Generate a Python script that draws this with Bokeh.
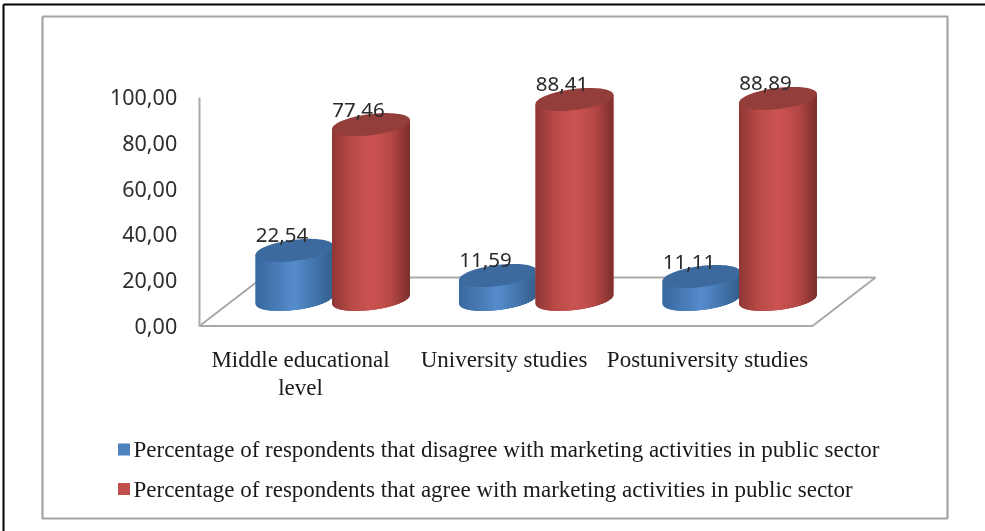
from bokeh.plotting import figure
from bokeh.models import FixedTicker, Range1d
from bokeh.core.properties import value
from bokeh.embed import file_html
from bokeh.resources import INLINE
import numpy as np

categories = ["Middle educational\nlevel", "University studies", "Postuniversity studies"]
disagree = [22.54, 11.59, 11.11]
agree = [77.46, 88.41, 88.89]
tick_values = [0, 20, 40, 60, 80, 100]
tick_labels = ["0,00", "20,00", "40,00", "60,00", "80,00", "100,00"]
legend_labels = [
    "Percentage of respondents that disagree with marketing activities in public sector",
    "Percentage of respondents that agree with marketing activities in public sector",
]

W, H = 985, 531
Y0_PX, PX_PER_UNIT = 325.5, 2.29        # value axis: 0 sits at 325.5 px
X0_PX, PX_PER_CAT = 332.0, 203.5        # first category centre

p = figure(width=W, height=H, output_backend="svg", toolbar_location=None,
           min_border=0, x_axis_type=None,
           x_range=Range1d(-X0_PX / PX_PER_CAT, (W - X0_PX) / PX_PER_CAT),
           y_range=Range1d(-(H - Y0_PX) / PX_PER_UNIT, Y0_PX / PX_PER_UNIT))
p.styles = {"filter": "blur(0.45px)"}
p.grid.visible = False
p.outline_line_color = None


def X(px):
    return (np.asarray(px, dtype=float) - X0_PX) / PX_PER_CAT


def Y(px):
    return (Y0_PX - np.asarray(px, dtype=float)) / PX_PER_UNIT


# frames
p.line(X([3, 3]), Y([4, 531]), line_color="#000000", line_width=2)
p.line(X([3, 985]), Y([4, 4]), line_color="#000000", line_width=2)
p.line(X([42, 947, 947, 42, 42]), Y([16, 16, 518, 518, 16]), line_color="#a3a3a3", line_width=2.2)

# floor
GRID = "#a9a9a9"
p.line(X([199, 812, 875, 262, 199]), Y([325.5, 325.5, 277, 277, 325.5]), line_color=GRID, line_width=2)

# value axis
ax = p.yaxis[0]
ax.fixed_location = float(X(198.7))
ax.bounds = (0, 100)
ax.ticker = FixedTicker(ticks=tick_values)
ax.major_label_overrides = {t: s for t, s in zip(tick_values, tick_labels)}
ax.axis_line_color = GRID
ax.axis_line_width = 2
ax.major_tick_line_color = None
ax.minor_tick_line_color = None
ax.major_tick_out = 0
ax.major_label_standoff = 22
ax.major_label_text_font = "Noto Sans"
ax.major_label_text_font_size = "21.5px"
ax.major_label_text_color = "#2e2e2e"

RED = dict(stops=["#8e3735", "#b84a47", "#cc5452", "#b64846", "#7c2e2d"], top="#943e3b")
BLUE = dict(stops=["#37689f", "#4779b3", "#558ccd", "#4475ac", "#345e8c"], top="#3d6a9e")
FRACS = [0.0, 0.25, 0.5, 0.75, 1.0]
BASE_UNITS = 11.6     # cylinders stand on the floor's middle
DEPTH_UNITS = 10.5    # 3D lift of the top face
A_PX, B_PX, TILT = 39.0, 10.6, 0.115
N = 26


def shade(stops, f):
    rgb = np.array([[int(s[i:i + 2], 16) for i in (1, 3, 5)] for s in stops], dtype=float)
    c = [np.interp(f, FRACS, rgb[:, k]) for k in range(3)]
    return "#%02x%02x%02x" % tuple(int(round(v)) for v in c)


def cylinder(cat, shift_px, val, style):
    cx = X0_PX + cat * PX_PER_CAT + shift_px
    top = val + DEPTH_UNITS

    def slab(lo, hi):
        e = np.linspace(lo, hi, 14)
        arc = np.sqrt(np.clip(1 - (e / A_PX) ** 2, 0, 1)) * B_PX
        lower = BASE_UNITS + (TILT * e - arc) / PX_PER_UNIT
        upper = top + TILT * e / PX_PER_UNIT
        return list(X(cx + e)) + list(X(cx + e[::-1])), list(lower) + list(upper[::-1])

    bx, by = slab(-A_PX, A_PX)
    p.patch(bx, by, fill_color=shade(style["stops"], 0.5), line_color=None)
    edges = np.linspace(-A_PX, A_PX, N + 1)
    xs, ys, cols = [], [], []
    # slabs are painted from the left, each one reaching past its neighbour so no seam shows
    for i in range(N):
        sx, sy = slab(edges[i], A_PX if i == N - 1 else edges[i + 1] + 1.5)
        xs.append(sx)
        ys.append(sy)
        cols.append(shade(style["stops"], (i + 0.5) / N))
    p.patches(xs, ys, fill_color=cols, line_color=None)
    t = np.linspace(0, 2 * np.pi, 90)
    ex = A_PX * np.cos(t)
    ey = top + (TILT * ex + B_PX * np.sin(t)) / PX_PER_UNIT
    p.patch(X(cx + ex), ey, fill_color=style["top"], line_color=None)
    return cx, top


labels_x, labels_y, labels_t = [], [], []
for i in range(len(categories)):
    for shift, series, style in ((-38, disagree, BLUE), (38.5, agree, RED)):
        cx, top = cylinder(i, shift, series[i], style)
        labels_x.append(float(X(cx - 12.5)))
        labels_y.append(top + 15 / PX_PER_UNIT)
        labels_t.append(f"{series[i]:.2f}".replace(".", ","))

p.text(labels_x, labels_y, text=labels_t, text_align="center", text_baseline="middle",
       text_font=value("Noto Sans"), text_font_size="20.5px", text_color="#2a2a2a")

# category labels
p.text([i - 32 / PX_PER_CAT for i in range(len(categories))], [float(Y(346))] * len(categories),
       text=categories, text_align="center", text_baseline="top", text_line_height=1.13,
       text_font=value("Liberation Serif"), text_font_size="23px", text_color="#1a1a1a")

# legend
leg_y = [449, 488.5]
p.scatter(X([123.5, 123.5]), Y(leg_y), marker="square", size=12,
          fill_color=["#4f81bd", "#c0504d"], line_color=None)
p.text(X([133, 133]), Y(leg_y), text=legend_labels, text_align="left", text_baseline="middle",
       text_font=value("Liberation Serif"), text_font_size="23px", text_color="#1a1a1a")

open("out.html", "w").write(file_html(p, INLINE))
